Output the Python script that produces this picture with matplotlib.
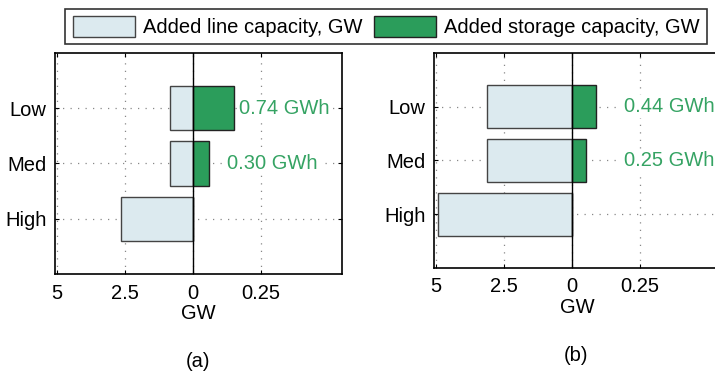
import matplotlib
matplotlib.use("Agg")
import matplotlib.pyplot as plt
from matplotlib.patches import Patch
import numpy as np

plt.rcParams["font.family"] = ["Liberation Sans", "DejaVu Sans"]

# data
scenarios = ["Low", "Med", "High"]
line_gw_a = [0.84, 0.84, 2.66]        # added line capacity, GW (panel a)
storage_gw_a = [0.15, 0.06, 0.0]      # added storage capacity, GW (panel a)
energy_a = ["0.74 GWh", "0.30 GWh", None]
line_gw_b = [3.12, 3.12, 4.93]
storage_gw_b = [0.088, 0.05, 0.0]
energy_b = ["0.44 GWh", "0.25 GWh", None]

tick_vals_line = [5, 2.5, 0]
tick_vals_storage = [0.25]

# line capacity drawn to the left on 2.5 GW/unit, storage to the right on 0.25 GW/unit
LINE_SCALE = 2.5
STOR_SCALE = 0.25

LINE_COLOR = "#dceaef"
STOR_COLOR = "#2b9d5b"
TEXT_GREEN = "#35a363"
FS = 14.5


def panel(ax, line_gw, storage_gw, energy, label_x):
    y = np.arange(1, len(scenarios) + 1)
    line_u = -np.array(line_gw) / LINE_SCALE
    stor_u = np.array(storage_gw) / STOR_SCALE
    ax.barh(y, line_u, height=0.8, color=LINE_COLOR, edgecolor="#444444",
            linewidth=1.0, zorder=2)
    ax.barh(y, stor_u, height=0.8, color=STOR_COLOR, edgecolor="#222222",
            linewidth=1.0, zorder=2)
    ax.axvline(0, color="black", linewidth=1.0, zorder=3)
    for yi, txt, lx in zip(y, energy, label_x):
        if txt is None:
            continue
        ax.text(lx, yi, txt, color=TEXT_GREEN, fontsize=FS, va="center",
                ha="left", zorder=4,
                bbox=dict(facecolor="white", edgecolor="none", pad=1.5))

    ticks = [-v / LINE_SCALE for v in tick_vals_line] + \
            [v / STOR_SCALE for v in tick_vals_storage]
    labels = ["5", "2.5", "0", "0.25"]
    ax.set_xticks(ticks)
    ax.set_xticklabels(labels)
    ax.set_yticks(y)
    ax.set_yticklabels(scenarios)
    ax.set_xlim(-2.03, 2.19)
    ax.set_ylim(4, 0)
    ax.grid(True, linestyle=(0, (1, 5)), color="#888888", linewidth=0.9,
            zorder=0)
    ax.set_axisbelow(True)
    ax.tick_params(direction="in", length=3, width=0.8, labelsize=FS,
                   top=True, right=True)
    ax.tick_params(axis="x", pad=7)
    ax.tick_params(axis="y", pad=6)
    for s in ax.spines.values():
        s.set_linewidth(1.2)
    ax.set_xlabel("GW", fontsize=FS, labelpad=1)


fig = plt.figure(figsize=(7.15, 3.71), dpi=100)
ax_a = fig.add_axes([0.0769, 0.2615, 0.4014, 0.5957])
ax_b = fig.add_axes([0.607, 0.2784, 0.401, 0.578])

panel(ax_a, line_gw_a, storage_gw_a, energy_a, [0.68, 0.50, 0])
panel(ax_b, line_gw_b, storage_gw_b, energy_b, [0.76, 0.76, 0])

fig.text(0.2765, 0.025, "(a)", ha="center", va="center", fontsize=FS)
fig.text(0.806, 0.043, "(b)", ha="center", va="center", fontsize=FS)

handles = [Patch(facecolor=LINE_COLOR, edgecolor="#444444", linewidth=1.0),
           Patch(facecolor=STOR_COLOR, edgecolor="#222222", linewidth=1.0)]
leg = fig.legend(handles, ["Added line capacity, GW", "Added storage capacity, GW"],
                 ncol=2, loc="center", bbox_to_anchor=(0.54, 0.928),
                 fontsize=FS, frameon=True, fancybox=False, edgecolor="black",
                 handlelength=3.1, handleheight=1.25, handletextpad=0.4,
                 columnspacing=0.55, borderpad=0.35, borderaxespad=0)
leg.get_frame().set_linewidth(1.2)

fig.savefig("out.png", dpi=100)
